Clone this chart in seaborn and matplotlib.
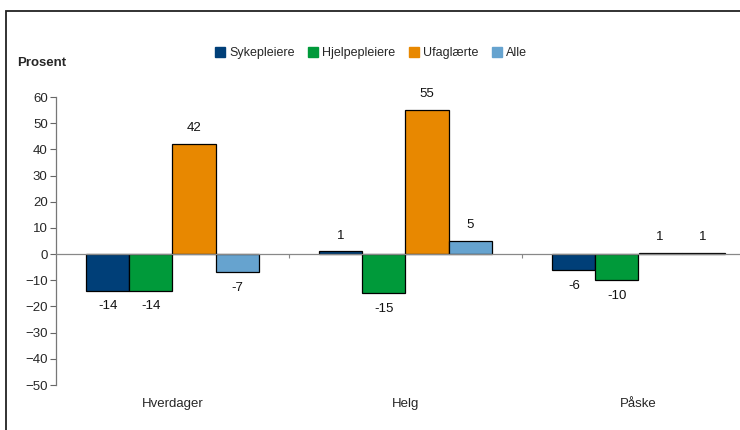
import matplotlib
matplotlib.use("Agg")
import matplotlib.pyplot as plt
from matplotlib.patches import Rectangle
import pandas as pd
import seaborn as sns

categories = ["Hverdager", "Helg", "Påske"]
series = ["Sykepleiere", "Hjelpepleiere", "Ufaglærte", "Alle"]
sykepleiere = [-14, 1, -6]
hjelpepleiere = [-14, -15, -10]
ufaglaerte = [42, 55, 0.6]
alle = [-7, 5, 0.6]
colors = ["#003f78", "#009a3a", "#e88800", "#66a3cf"]
yticks = list(range(-50, 61, 10))

rows = []
for name, vals in zip(series, [sykepleiere, hjelpepleiere, ufaglaerte, alle]):
    for cat, v in zip(categories, vals):
        rows.append({"kategori": cat, "gruppe": name, "verdi": v})
df = pd.DataFrame(rows)

sns.set_style("white")
plt.rcParams["font.family"] = ["Liberation Sans", "DejaVu Sans"]

fig = plt.figure(figsize=(7.4, 4.3), dpi=100)
ax = fig.add_axes([56 / 740, 1 - 385 / 430, 699 / 740, 288 / 430])

sns.barplot(data=df, x="kategori", y="verdi", hue="gruppe", order=categories,
            hue_order=series, palette=colors, width=0.74, gap=0,
            edgecolor="black", linewidth=0.9, saturation=1, ax=ax, legend=False)

for cont in ax.containers:
    ax.bar_label(cont, fmt="%.0f", padding=7, fontsize=9.5, color="#111111")

ax.set_xlim(-0.5, len(categories) - 0.5)
ax.set_ylim(-50, 60)
ax.set_yticks(yticks)
ax.tick_params(axis="y", direction="out", length=4, width=0.8, color="#666666",
               labelsize=9.5, pad=2, left=True)
ax.set_xlabel("")
ax.set_ylabel("")

# x-axis at zero with small ticks between groups
for s in ["top", "right"]:
    ax.spines[s].set_visible(False)
ax.spines["left"].set_color("#777777")
ax.spines["left"].set_linewidth(0.9)
ax.spines["bottom"].set_position(("data", 0))
ax.spines["bottom"].set_color("#888888")
ax.spines["bottom"].set_linewidth(0.9)
ax.set_xticks([i + 0.5 for i in range(len(categories))])
ax.set_xticklabels([])
ax.tick_params(axis="x", direction="out", length=3, width=0.8, color="#888888", bottom=True)
for i, cat in enumerate(categories):
    ax.annotate(cat, xy=(i, -50), xycoords="data", xytext=(0, -14),
                textcoords="offset points", ha="center", va="center", fontsize=9.5)

fig.text(17 / 740, 1 - 63 / 430, "Prosent", fontsize=9.5, fontweight="bold", va="center")

handles = [Rectangle((0, 0), 1, 1, color=c) for c in colors]
fig.legend(handles, series, loc="center", bbox_to_anchor=(371 / 740, 1 - 53 / 430),
           ncol=4, frameon=False, fontsize=9, handlelength=0.8, handleheight=0.8,
           handletextpad=0.3, columnspacing=1.1)

fig.patches.append(Rectangle((6 / 740, -0.05), 1.1, 1.05 - 11 / 430, transform=fig.transFigure,
                             fill=False, edgecolor="#222222", linewidth=1.3))

fig.savefig("out.png", dpi=100)
